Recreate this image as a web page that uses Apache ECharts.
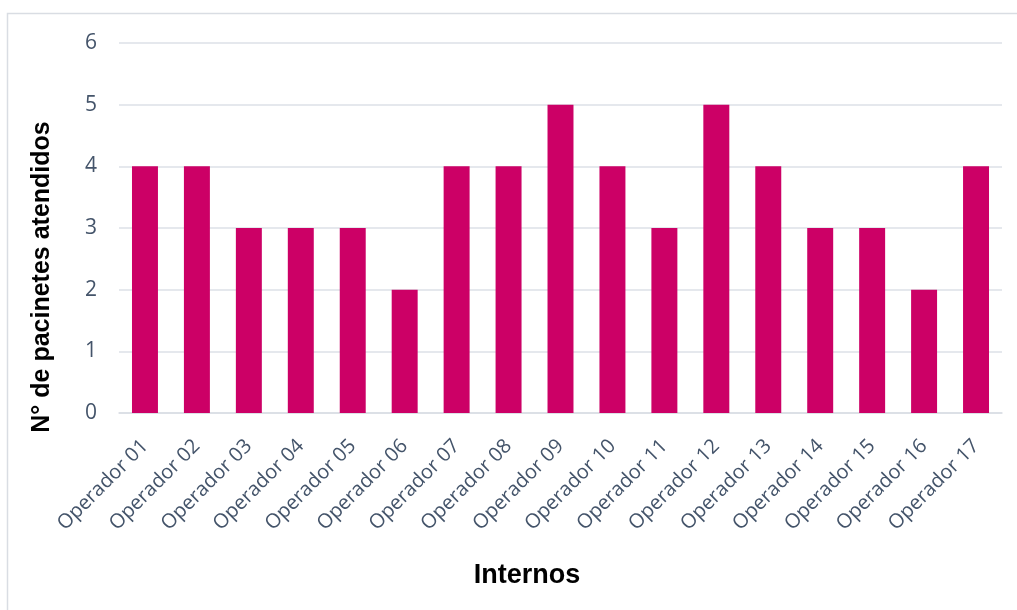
<!DOCTYPE html>
<html><head><meta charset="utf-8">
<script src="https://cdn.jsdelivr.net/npm/echarts@6/dist/echarts.min.js"></script>
<style>html,body{margin:0;padding:0;background:#fff}#c{width:1017px;height:610px}</style>
</head><body><div id="c"></div>
<script>
const categories = ["Operador 01","Operador 02","Operador 03","Operador 04","Operador 05","Operador 06","Operador 07","Operador 08","Operador 09","Operador 10","Operador 11","Operador 12","Operador 13","Operador 14","Operador 15","Operador 16","Operador 17"];
const values = [4,4,3,3,3,2,4,4,5,4,3,5,4,3,3,2,4];
const yTitle = "N° de pacinetes atendidos";
const xTitle = "Internos";

const chart = echarts.init(document.getElementById('c'));
chart.setOption({
  animation: false,
  grid: {left: 119, right: 15, top: 43, bottom: 197, containLabel: false},
  xAxis: {
    type: 'category', data: categories,
    axisLine: {lineStyle: {color: '#d9dde3', width: 1.5}},
    axisTick: {show: false},
    axisLabel: {rotate: 45, color: '#44546A', fontSize: 20, fontFamily: 'Open Sans', margin: 30, interval: 0}
  },
  yAxis: {
    type: 'value', min: 0, max: 6, interval: 1,
    axisLine: {show: false}, axisTick: {show: false},
    splitLine: {lineStyle: {color: '#dde1e7', width: 1.5}},
    axisLabel: {color: '#44546A', fontSize: 21, fontFamily: 'Open Sans', margin: 22}
  },
  series: [{type: 'bar', data: values, barWidth: '50%', itemStyle: {color: '#CC0066'}}],
  graphic: [
    {type: 'rect', shape: {x: 7.5, y: 13.5, width: 1030, height: 620}, style: {fill: 'none', stroke: '#d9dde3', lineWidth: 1.5}, z: -1},
    {type: 'text', x: 42, y: 277, rotation: Math.PI/2, style: {text: yTitle, font: 'bold 25px "Liberation Sans", Arial, sans-serif', fill: '#000', textAlign: 'center', textVerticalAlign: 'middle'}},
    {type: 'text', x: 527, y: 576, style: {text: xTitle, font: 'bold 27px "Liberation Sans", Arial, sans-serif', fill: '#000', textAlign: 'center', textVerticalAlign: 'middle'}}
  ]
});
</script></body></html>
